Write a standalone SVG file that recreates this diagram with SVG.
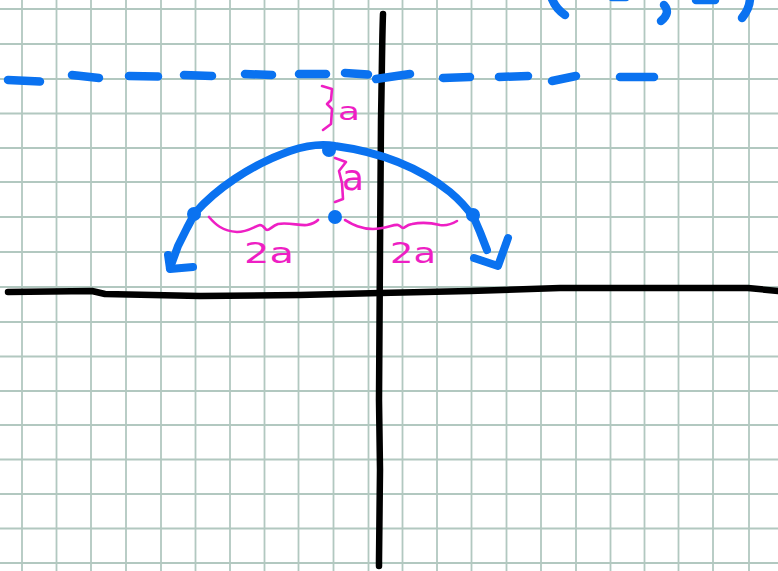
<svg xmlns="http://www.w3.org/2000/svg" width="778" height="571" viewBox="0 0 778 571">
<style>
.grid line{stroke:#b2c8c0;stroke-width:1.8}
.ink{fill:none;stroke-linecap:round;stroke-linejoin:round}
.blue{stroke:#0a72f0}
.black{stroke:#000}
.pink{stroke:#ee1fc4;stroke-width:2.6}
.lbl{fill:#ee1fc4;font-family:"DejaVu Sans","Liberation Sans",sans-serif}
.dot{fill:#0a72f0}
</style>
<rect width="778" height="571" fill="#fff"/>
<g id="grid" class="grid">
<line x1="22" y1="0" x2="22" y2="571"/><line x1="56.5" y1="0" x2="56.5" y2="571"/><line x1="91" y1="0" x2="91" y2="571"/><line x1="126" y1="0" x2="126" y2="571"/><line x1="161" y1="0" x2="161" y2="571"/><line x1="195.5" y1="0" x2="195.5" y2="571"/><line x1="230" y1="0" x2="230" y2="571"/><line x1="264.5" y1="0" x2="264.5" y2="571"/><line x1="298.5" y1="0" x2="298.5" y2="571"/><line x1="333.5" y1="0" x2="333.5" y2="571"/><line x1="368.5" y1="0" x2="368.5" y2="571"/><line x1="402.5" y1="0" x2="402.5" y2="571"/><line x1="437" y1="0" x2="437" y2="571"/><line x1="471.5" y1="0" x2="471.5" y2="571"/><line x1="506.5" y1="0" x2="506.5" y2="571"/><line x1="541" y1="0" x2="541" y2="571"/><line x1="576" y1="0" x2="576" y2="571"/><line x1="610.5" y1="0" x2="610.5" y2="571"/><line x1="644.5" y1="0" x2="644.5" y2="571"/><line x1="678.5" y1="0" x2="678.5" y2="571"/><line x1="713" y1="0" x2="713" y2="571"/><line x1="749" y1="0" x2="749" y2="571"/>
<line x1="0" y1="9" x2="778" y2="9"/><line x1="0" y1="44" x2="778" y2="44"/><line x1="0" y1="79" x2="778" y2="79"/><line x1="0" y1="113.5" x2="778" y2="113.5"/><line x1="0" y1="148" x2="778" y2="148"/><line x1="0" y1="182" x2="778" y2="182"/><line x1="0" y1="217" x2="778" y2="217"/><line x1="0" y1="252" x2="778" y2="252"/><line x1="0" y1="287" x2="778" y2="287"/><line x1="0" y1="322" x2="778" y2="322"/><line x1="0" y1="356.5" x2="778" y2="356.5"/><line x1="0" y1="391" x2="778" y2="391"/><line x1="0" y1="425" x2="778" y2="425"/><line x1="0" y1="459.5" x2="778" y2="459.5"/><line x1="0" y1="494" x2="778" y2="494"/><line x1="0" y1="528.5" x2="778" y2="528.5"/><line x1="0" y1="563" x2="778" y2="563"/>
</g>
<g id="axes" class="ink black" stroke-width="6.5">
<path d="M383,14 C382,40 382,70 381,120 L380,250 L379,400 L380,470 L379,560 L379,566"/>
<path d="M8,292 L92,291 L105,294 L200,296 L300,295 L380,293 L470,291 L560,288 L748,288 L778,291"/>
</g>
<g id="directrix" class="ink blue" stroke-width="8.5">
<path d="M8,80 L40,81.5"/><path d="M72,75 L99,78"/><path d="M129,76 L158,76.5"/><path d="M184,75 L212,76"/><path d="M245,74 L272,75"/><path d="M299,74 L326,74"/><path d="M345,73 L368,74.5"/><path d="M376,79 L410,74"/><path d="M443,78 L470,77"/><path d="M499,77 L528,76"/><path d="M552,81 L576,76"/><path d="M620,77 L654,77"/>
</g>
<g id="point-marks" class="ink blue" stroke-width="8.5">
<path d="M552,-1 Q556,9 565,15"/><path d="M612,-3 L626,-3"/><path d="M664,5 Q671,13 661,21"/><path d="M696,0 L715,0"/><path d="M750,-2 Q750,8 742,18"/>
</g>
<g id="parabola" class="ink blue" stroke-width="8">
<path d="M170,268 L178,246 L187,228 L195,213 C215,190 250,165 290,151 C305,146 320,143 335,146 C380,152 420,168 450,192 C462,202 469,211 474,218 L480,232 L487,250"/>
<path d="M168,255 L170,269 L193,267"/>
<path d="M474,258 L498,266 L508,238"/>
</g>
<g id="points">
<circle class="dot" cx="194" cy="214" r="7"/>
<circle class="dot" cx="329" cy="150" r="7"/>
<circle class="dot" cx="473" cy="215" r="7"/>
<circle class="dot" cx="335" cy="217" r="7"/>
</g>
<g id="labels">
<path class="ink pink" d="M322,86 L332,89 L331,100 L327,104 L332,109 L331,124 L323,130"/>
<text class="lbl" x="338" y="120" font-size="24" textLength="22" lengthAdjust="spacingAndGlyphs">a</text>
<path class="ink pink" d="M335,158 L346,162 L339,171 L342,183 L343,199 L335,202"/>
<text class="lbl" x="342" y="190" font-size="36" textLength="22" lengthAdjust="spacingAndGlyphs">a</text>
<path class="ink pink" d="M209,217 C215,224 222,231 237,232 C248,232 255,226 260,225 C264,225 265,230 267,230 C270,230 272,226 278,224 C288,222 300,226 307,225 C312,224 316,222 318,220"/>
<text class="lbl" x="244" y="263" font-size="28" textLength="50" lengthAdjust="spacingAndGlyphs">2a</text>
<path class="ink pink" d="M345,220 C352,224 360,229 373,229 C385,229 394,224 398,225 C401,226 402,228 403,228 C405,228 406,225 412,224 C422,222 432,223 440,225 C447,226 452,224 457,221"/>
<text class="lbl" x="390" y="263" font-size="28" textLength="46" lengthAdjust="spacingAndGlyphs">2a</text>
</g>
</svg>
